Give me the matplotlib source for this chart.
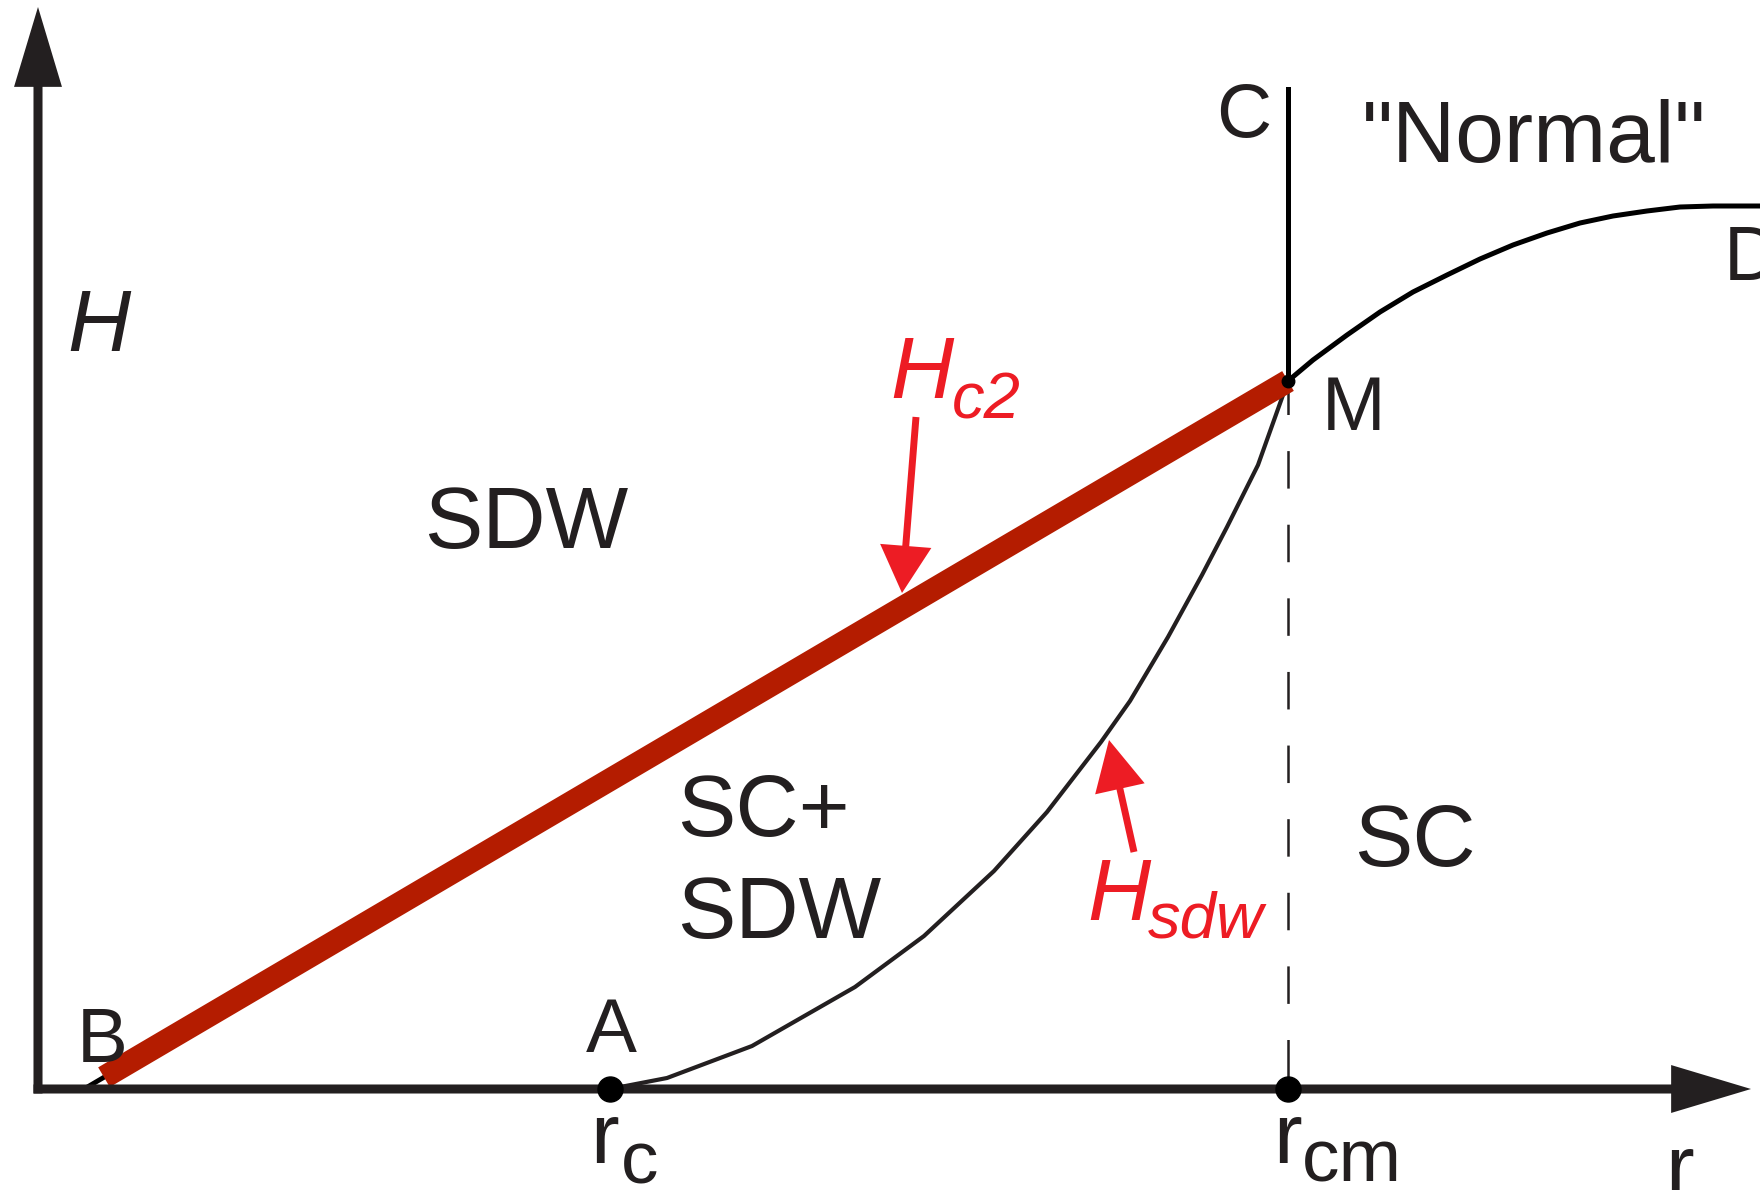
import numpy as np
import matplotlib
matplotlib.use('Agg')
import matplotlib.pyplot as plt
from matplotlib.patches import FancyArrowPatch

# diagrama de fases esquematico H(r), unidades arbitrarias
r_c = 5.72
r_cm = 12.50
H_m = 7.08
H_c_top = 10.0

# linea H_sdw: de A hasta M
sdw_r = [5.72, 6.29, 7.14, 8.17, 8.86, 9.56, 10.09, 10.63, 10.92, 11.30, 11.64, 11.89, 12.20, 12.50]
sdw_H = [0.00, 0.11, 0.43, 1.02, 1.53, 2.18, 2.77, 3.47, 3.88, 4.52, 5.14, 5.62, 6.24, 7.08]

# linea M -> D ("Normal")
norm_r = [12.50, 12.75, 13.09, 13.42, 13.75, 14.09, 14.42, 14.75, 15.09, 15.42,
          15.75, 16.09, 16.42, 16.75, 17.22]
norm_H = [7.08, 7.29, 7.54, 7.77, 7.97, 8.14, 8.30, 8.44, 8.56, 8.66,
          8.73, 8.78, 8.82, 8.83, 8.83]

# linea Hc2: de B hasta M
hc2_r = [0.46, 12.50]
hc2_H = [0.00, 7.08]
hc2_rojo_desde = 0.66

plt.rcParams['font.family'] = ['Liberation Sans', 'DejaVu Sans']
plt.rcParams['lines.scale_dashes'] = False

tinta = '#231f20'
rojo_osc = '#b41c00'
rojo = '#ed1c24'

fig = plt.figure(figsize=(17.6, 11.9), dpi=100)
ax = fig.add_axes([0, 0, 1, 1])
ax.set_xlim(-0.38, 17.22)
ax.set_ylim(-1.01, 10.89)
ax.axis('off')


def flecha(x0, y0, x1, y1, color, cola, ancho, largo):
    estilo = f'simple,head_length={largo},head_width={ancho},tail_width={cola}'
    f = FancyArrowPatch((x0, y0), (x1, y1), arrowstyle=estilo, mutation_scale=1,
                        color=color, lw=0, shrinkA=0, shrinkB=0, zorder=5)
    ax.add_patch(f)


# ejes
flecha(0, -0.045, 0, 10.82, tinta, 6.5, 34.5, 57.5)
flecha(-0.045, 0, 17.13, 0, tinta, 6.5, 34.5, 57.5)

# lineas de fase
ax.plot(hc2_r, hc2_H, color='black', lw=3.5, solid_capstyle='butt', zorder=2)
H_rojo = np.interp(hc2_rojo_desde, hc2_r, hc2_H)
ax.plot([hc2_rojo_desde, hc2_r[1]], [H_rojo, hc2_H[1]], color=rojo_osc, lw=16.5,
        solid_capstyle='butt', zorder=3)
ax.plot(sdw_r, sdw_H, color=tinta, lw=3, zorder=2)
ax.plot(norm_r, norm_H, color='black', lw=3.6, zorder=2)
ax.plot([r_cm, r_cm], [H_m, H_c_top], color='black', lw=3.6, zorder=2)
ax.plot([r_cm, r_cm], [0.12, H_m], color=tinta, lw=1.8, dashes=(27, 26), zorder=2)

# puntos
ax.plot([r_c, r_cm], [0, 0], 'o', color='black', ms=18, zorder=6)
ax.plot([r_cm], [H_m], 'o', color='black', ms=9, zorder=6)

# flechas rojas
flecha(8.78, 6.72, 8.64, 4.96, rojo, 5, 37, 34)
flecha(10.96, 2.37, 10.71, 3.49, rojo, 5, 36.5, 36)

grande = 63
chico = 55
txt = dict(ha='left', va='baseline', color=tinta)

ax.text(0.29, 7.38, 'H', fontsize=grande, style='italic', **txt)
ax.text(3.86, 5.41, 'SDW', fontsize=grande, **txt)
ax.text(6.39, 2.53, 'SC+', fontsize=grande, **txt)
ax.text(6.39, 1.51, 'SDW', fontsize=grande, **txt)
ax.text(13.16, 2.23, 'SC', fontsize=grande, **txt)
ax.text(13.24, 9.27, '"Normal"', fontsize=grande, **txt)
ax.text(11.78, 9.52, 'C', fontsize=chico, **txt)
ax.text(12.84, 6.59, 'M', fontsize=chico, **txt)
ax.text(16.86, 8.09, 'D', fontsize=chico, **txt)
ax.text(0.385, 0.27, 'B', fontsize=chico, **txt)
ax.text(5.48, 0.37, 'A', fontsize=chico, **txt)

ax.text(5.52, -0.74, 'r', fontsize=62, **txt)
ax.text(5.83, -0.94, 'c', fontsize=54, **txt)
ax.text(12.35, -0.74, 'r', fontsize=62, **txt)
ax.text(12.64, -0.93, 'cm', fontsize=54, **txt)
ax.text(16.27, -1.06, 'r', fontsize=62, **txt)

rtxt = dict(ha='left', va='baseline', color=rojo, style='italic')
ax.text(8.52, 6.91, 'H', fontsize=grande, **rtxt)
ax.text(9.14, 6.71, 'c2', fontsize=47, **rtxt)
ax.text(10.49, 1.69, 'H', fontsize=grande, **rtxt)
ax.text(11.10, 1.51, 'sdw', fontsize=47, **rtxt)

fig.savefig('out.png', dpi=100)
plt.close(fig)
